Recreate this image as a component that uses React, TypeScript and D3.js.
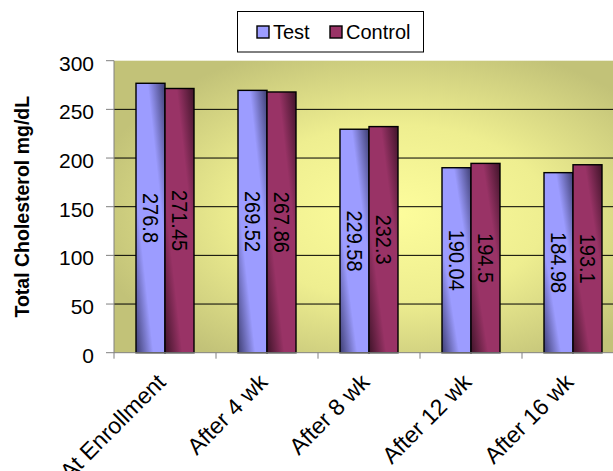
import React from "react";
import * as d3 from "d3";

// Cholesterol measurements per visit
const categories = ["At Enrollment", "After 4 wk", "After 8 wk", "After 12 wk", "After 16 wk"];
const seriesNames = ["Test", "Control"];
const testValues = [276.8, 269.52, 229.58, 190.04, 184.98];
const controlValues = [271.45, 267.86, 232.3, 194.5, 193.1];
const yTicks = [0, 50, 100, 150, 200, 250, 300];
const yTitle = "Total Cholesterol mg/dL";

const W = 613;
const H = 471;
const plot = { left: 114, right: 624, top: 60.7, bottom: 352.7 };
const FONT = "Arial, 'Liberation Sans', Helvetica, sans-serif";

const seriesStyle = [
  { light: "#9c9cff", dark: "#3e3e72", id: "gTest" },
  { light: "#993366", dark: "#3f1429", id: "gCtrl" },
];

export default function App() {
  const y = d3.scaleLinear().domain([0, 300]).range([plot.bottom, plot.top]);
  const x = d3.scaleBand<string>().domain(categories).range([plot.left, plot.right]).padding(0);
  const groupW = 58;
  const inner = d3
    .scaleBand<string>()
    .domain(seriesNames)
    .range([(x.bandwidth() - groupW) / 2, (x.bandwidth() + groupW) / 2]);
  const values = [testValues, controlValues];

  return (
    <svg
      width={W}
      height={H}
      style={{ position: "absolute", left: 0, top: 0, background: "#fff" }}
      fontFamily={FONT}
    >
      <defs>
        <radialGradient id="bgGrad" cx="0.55" cy="0.52" r="0.6" fx="0.55" fy="0.52">
          <stop offset="0" stopColor="#fdfd9c" />
          <stop offset="0.5" stopColor="#eeee90" />
          <stop offset="1" stopColor="#c2c278" />
        </radialGradient>
        {seriesStyle.map((s) => (
          <linearGradient key={s.id} id={s.id} x1="0" y1="1" x2="1" y2="0">
            <stop offset="0" stopColor={s.dark} />
            <stop offset="0.3" stopColor={s.light} />
            <stop offset="0.5" stopColor={s.light} />
            <stop offset="0.7" stopColor={s.light} />
            <stop offset="1" stopColor={s.dark} />
          </linearGradient>
        ))}
      </defs>

      {/* plot area */}
      <rect
        x={plot.left}
        y={plot.top}
        width={plot.right - plot.left}
        height={plot.bottom - plot.top}
        fill="url(#bgGrad)"
      />

      {/* gridlines */}
      {yTicks
        .filter((t) => t > 0 && t < 300)
        .map((t) => (
          <line
            key={"g" + t}
            x1={plot.left}
            x2={plot.right}
            y1={y(t)}
            y2={y(t)}
            stroke="#000"
            strokeWidth={1}
          />
        ))}

      {/* bars */}
      {categories.map((c, i) => (
        <g key={c} transform={`translate(${x(c)},0)`}>
          {seriesNames.map((s, k) => {
            const v = values[k][i];
            const bx = inner(s)!;
            const bw = inner.bandwidth();
            const top = y(v);
            return (
              <g key={s}>
                <rect
                  x={bx}
                  y={top}
                  width={bw}
                  height={plot.bottom - top}
                  fill={`url(#${seriesStyle[k].id})`}
                  stroke="#000"
                  strokeWidth={1.4}
                />
                <text
                  transform={`translate(${bx + bw / 2},${(top + plot.bottom) / 2}) rotate(90) scale(1,1.12)`}
                  textAnchor="middle"
                  dominantBaseline="central"
                  fontSize={20}
                  fill="#000"
                >
                  {v}
                </text>
              </g>
            );
          })}
        </g>
      ))}

      {/* y axis */}
      <line x1={plot.left} x2={plot.left} y1={plot.top} y2={plot.bottom} stroke="#808080" strokeWidth={1} />
      {yTicks.map((t) => (
        <g key={"t" + t}>
          <line x1={plot.left - 8} x2={plot.left} y1={y(t)} y2={y(t)} stroke="#808080" />
          <text x={plot.left - 20} y={y(t) + 10} textAnchor="end" fontSize={21} fill="#000">
            {t}
          </text>
        </g>
      ))}
      <text
        transform={`translate(29,${(plot.top + plot.bottom) / 2 + 0}) rotate(-90)`}
        textAnchor="middle"
        fontSize={19.5}
        fontWeight="bold"
        fill="#000"
      >
        {yTitle}
      </text>

      {/* x axis */}
      <line x1={plot.left} x2={plot.right} y1={plot.bottom} y2={plot.bottom} stroke="#808080" />
      {categories.map((c) => (
        <line
          key={"xt" + c}
          x1={x(c)!}
          x2={x(c)!}
          y1={plot.bottom}
          y2={plot.bottom + 6}
          stroke="#808080"
        />
      ))}
      {categories.map((c) => (
        <text
          key={"xl" + c}
          transform={`translate(${x(c)! + x.bandwidth() / 2 + 2},${plot.bottom + 31}) rotate(-45)`}
          textAnchor="end"
          fontSize={23}
          fill="#000"
        >
          {c}
        </text>
      ))}

      {/* legend */}
      <rect x={237.5} y={11.5} width={186} height={40.5} fill="#fff" stroke="#000" strokeWidth={1} />
      {seriesNames.map((s, k) => {
        const lx = k === 0 ? 257 : 330;
        return (
          <g key={"lg" + s}>
            <rect x={lx} y={26} width={12} height={12} fill={seriesStyle[k].light} stroke="#000" strokeWidth={1.4} />
            <text x={lx + 16} y={38.5} fontSize={20} fill="#000">
              {s}
            </text>
          </g>
        );
      })}
    </svg>
  );
}
